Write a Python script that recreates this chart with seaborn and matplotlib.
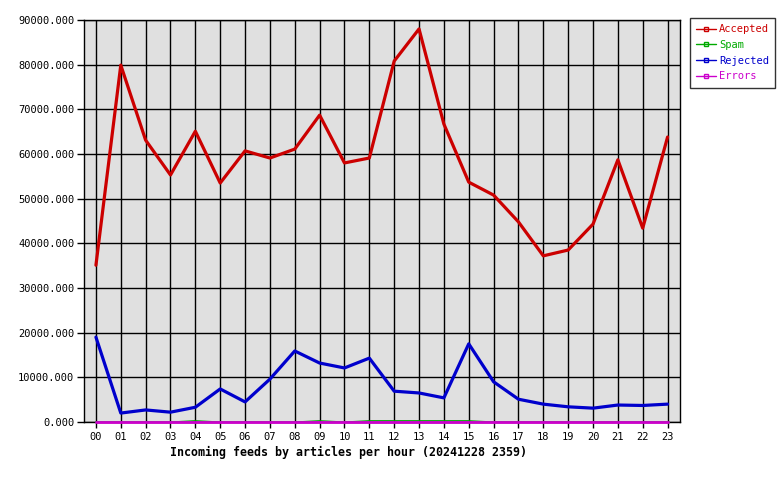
import matplotlib
matplotlib.use("Agg")
import matplotlib.pyplot as plt
from matplotlib.lines import Line2D
import seaborn as sns
import pandas as pd

hours = ["00", "01", "02", "03", "04", "05", "06", "07", "08", "09", "10", "11",
         "12", "13", "14", "15", "16", "17", "18", "19", "20", "21", "22", "23"]
accepted = [35100, 79900, 63100, 55300, 65100, 53500, 60700, 59100, 61100, 68700, 58000, 59100,
            80800, 88000, 66700, 53700, 50800, 44800, 37200, 38500, 44300, 58700, 43400, 63800]
spam = [0, 0, 0, 0, 300, 0, 0, 0, 0, 300, 0, 300,
        300, 300, 300, 300, 0, 0, 0, 0, 0, 0, 0, 0]
rejected = [19000, 2000, 2700, 2200, 3300, 7400, 4500, 9600, 15900, 13200, 12100, 14300,
            6900, 6500, 5400, 17500, 9000, 5100, 4000, 3400, 3100, 3800, 3700, 4000]
errors = [0, 0, 0, 0, 0, 0, 0, 0, 0, 0, 0, 0,
          0, 0, 0, 0, 0, 0, 0, 0, 0, 0, 0, 0]

series_names = ["Accepted", "Spam", "Rejected", "Errors"]
colors = {"Accepted": "#cc0000", "Spam": "#00aa00", "Rejected": "#0000cc", "Errors": "#cc00cc"}
widths = {"Accepted": 2.3, "Spam": 0.8, "Rejected": 2.3, "Errors": 2.0}

df = pd.DataFrame({"hour": list(range(len(hours))) * 4,
                   "value": accepted + spam + rejected + errors,
                   "series": sum([[s] * len(hours) for s in series_names], [])})

sns.set_style("white")
plt.rcParams["font.family"] = ["DejaVu Sans Mono"]
plt.rcParams["text.color"] = "black"
plt.rcParams["xtick.color"] = "black"
plt.rcParams["ytick.color"] = "black"

fig = plt.figure(figsize=(7.8, 4.8), dpi=100)
ax = fig.add_axes([84 / 780, 58 / 480, 596 / 780, 402 / 480])
ax.set_facecolor("#e0e0e0")

zorders = {"Spam": 4, "Errors": 5, "Rejected": 6, "Accepted": 7}
for s in ["Spam", "Errors", "Rejected", "Accepted"]:
    sub = df[df["series"] == s]
    sns.lineplot(data=sub, x="hour", y="value", ax=ax, color=colors[s],
                 linewidth=widths[s], legend=False, zorder=zorders[s])
for ln in ax.lines:
    ln.set_clip_on(False)

ax.set_xlim(-0.48, 23.5)
ax.set_ylim(0, 90000)
ax.set_xticks(range(len(hours)))
ax.set_xticklabels(hours)
ax.set_yticks(range(0, 90001, 10000))
ax.set_yticklabels([f"{v}.000" for v in range(0, 90001, 10000)])
ax.grid(True, color="black", linewidth=1.0)
ax.set_axisbelow(True)
ax.tick_params(axis="x", length=4, width=1, color="black", labelsize=7.5, pad=3, bottom=True)
ax.tick_params(axis="y", length=5, width=1, color="black", labelsize=7.5, pad=2, left=True)
for sp in ax.spines.values():
    sp.set_color("black")
    sp.set_linewidth(1.0)
    sp.set_zorder(3)
ax.set_ylabel("")
ax.set_xlabel("")
fig.text(170 / 780, 1 - 452 / 480, "Incoming feeds by articles per hour (20241228 2359)",
         fontsize=8.4, fontweight="bold", ha="left", va="center", color="black")

handles = [Line2D([0], [0], color=colors[s], linewidth=1.0, marker="s", markersize=3,
                  markerfacecolor="none", markeredgecolor=colors[s]) for s in series_names]
leg = fig.legend(handles, series_names, loc="upper left", bbox_to_anchor=(690 / 780, 1 - 18 / 480),
                 frameon=True, fancybox=False, edgecolor="black", fontsize=7.5,
                 handlelength=1.9, handletextpad=0.3, borderpad=0.6, labelspacing=0.55,
                 borderaxespad=0)
leg.get_frame().set_linewidth(1.0)
for t, s in zip(leg.get_texts(), series_names):
    t.set_color(colors[s])

fig.savefig("out.png", dpi=100, facecolor="white")
